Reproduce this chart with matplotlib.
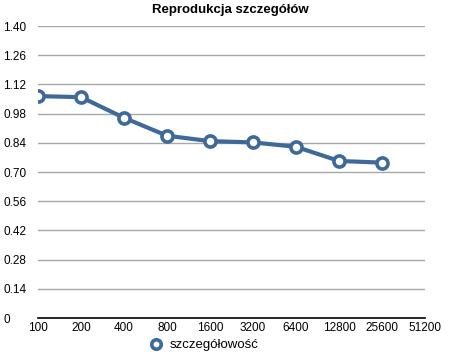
import matplotlib.pyplot as plt

# data
categories = ["100", "200", "400", "800", "1600", "3200", "6400", "12800", "25600", "51200"]
values = [1.064, 1.059, 0.960, 0.874, 0.848, 0.842, 0.821, 0.753, 0.745]
y_ticks = [0, 0.14, 0.28, 0.42, 0.56, 0.70, 0.84, 0.98, 1.12, 1.26, 1.40]
y_labels = ["0", "0.14", "0.28", "0.42", "0.56", "0.70", "0.84", "0.98", "1.12", "1.26", "1.40"]

LINE_COLOR = "#3E6A99"
plt.rcParams["font.family"] = ["Liberation Sans", "DejaVu Sans"]

fig = plt.figure(figsize=(4.51, 3.58), dpi=100)
ax = fig.add_axes([0.0843, 0.1117, 0.8580, 0.8156])

x = list(range(len(values)))
ax.plot(x, values, color=LINE_COLOR, linewidth=3.0, marker="o", markersize=8,
        markerfacecolor="white", markeredgecolor=LINE_COLOR, markeredgewidth=2.6,
        label="szczegółowość", zorder=3)

ax.set_xlim(0, len(categories) - 1)
ax.set_ylim(0, 1.40)
ax.set_xticks(range(len(categories)))
ax.set_xticklabels(categories, fontsize=8.5)
ax.set_yticks(y_ticks)
ax.set_yticklabels(y_labels, fontsize=8.5, ha="left")
ax.tick_params(axis="y", length=0, pad=25)
ax.tick_params(axis="x", length=0, pad=3)

for t in y_ticks[1:]:
    ax.axhline(t, color="#a8a8a8", linewidth=1, zorder=1)

for side in ["top", "right", "left"]:
    ax.spines[side].set_visible(False)
ax.spines["bottom"].set_color("black")
ax.spines["bottom"].set_linewidth(1.2)
ax.spines["bottom"].set_zorder(2)

fig.text(0.511, 0.972, "Reprodukcja szczegółów", ha="center", va="center",
         fontsize=9.5, fontweight="bold")

fig.legend(loc="center", bbox_to_anchor=(0.46, 0.036), frameon=False,
           handlelength=0, handletextpad=1.0, fontsize=9.5, markerscale=0.85)

fig.savefig("out.png", dpi=100)
